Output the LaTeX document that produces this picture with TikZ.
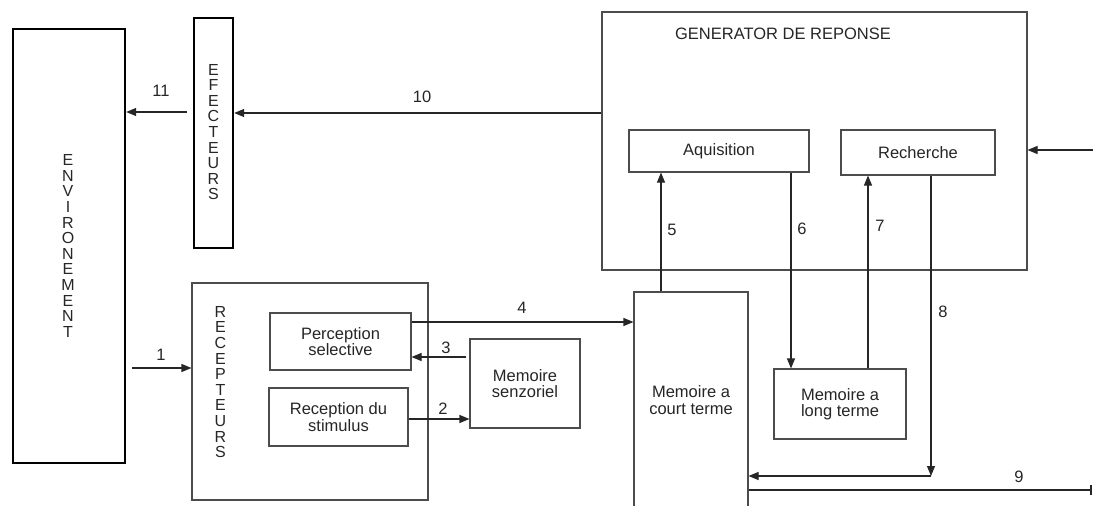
\documentclass[tikz,border=0pt]{standalone}
\usepackage{fontspec}
\setmainfont{Liberation Sans}
\usetikzlibrary{arrows.meta}
\tikzset{
  txt/.style={font=\fontsize{16.5}{16.5}\selectfont, text=black!85, align=center, inner sep=0pt},
  vtxt/.style={font=\fontsize{16}{15.6}\selectfont, text=black!85, align=center, inner sep=0pt},
  thickbox/.style={draw=black, line width=2.4pt, inner sep=0pt},
  thinbox/.style={draw=black!70, line width=1.1pt, inner sep=0pt},
  arr/.style={draw=black!85, line width=1.1pt, -{Triangle[length=10pt,width=8pt]}},
  plainline/.style={draw=black!85, line width=1.1pt},
  lbl/.style={font=\fontsize{16.5}{16.5}\selectfont, text=black!85, inner sep=0pt}
}
\begin{document}
\begin{tikzpicture}[x=1pt,y=-1pt]
\useasboundingbox (0,0) rectangle (1093,506);
\clip (0,0) rectangle (1093,506);
\fill[white] (0,0) rectangle (1093,506);

% level coordinates
\coordinate (y112) at (0,112);
\coordinate (y113) at (0,113);
\coordinate (y150) at (0,150);
\coordinate (y322) at (0,322);
\coordinate (y357) at (0,357);
\coordinate (y368) at (0,368);
\coordinate (y419) at (0,419);
\coordinate (y490) at (0,490);
\coordinate (x661) at (661,0);
\coordinate (x791) at (791,0);
\coordinate (x868) at (868,0);
\coordinate (x931) at (931,0);

% boxes
\node[thickbox, minimum width=112pt, minimum height=434pt] (env) at (69,246) {};
\node[vtxt] (envt) at (68,246) {E\\N\\V\\I\\R\\O\\N\\E\\M\\E\\N\\T};

\node[thickbox, minimum width=39pt, minimum height=230pt] (efe) at (213.5,133) {};
\node[vtxt] (efet) at (213.5,132) {E\\F\\E\\C\\T\\E\\U\\R\\S};

\node[thinbox, minimum width=236pt, minimum height=217pt] (rec) at (310,391.5) {};
\node[vtxt] (rect) at (220.5,382) {R\\E\\C\\E\\P\\T\\E\\U\\R\\S};

\node[thinbox, minimum width=141pt, minimum height=57pt, txt] (perc) at (340.5,341.5) {Perception\\selective};
\node[thinbox, minimum width=139pt, minimum height=58pt, txt] (recst) at (338.5,417) {Reception du\\stimulus};
\node[thinbox, minimum width=110pt, minimum height=89pt, txt] (msenz) at (525,383.5) {Memoire\\senzoriel};

\node[thinbox, minimum width=114pt, minimum height=216pt, txt] (mct) at (691,400) {Memoire a\\court terme};

\node[thinbox, minimum width=425pt, minimum height=258pt] (gen) at (814.5,141) {};
\node[txt] (gent) at (783,34) {GENERATOR DE REPONSE};
\node[thinbox, minimum width=180pt, minimum height=42pt, txt] (aq) at (719,151) {Aquisition};
\node[thinbox, minimum width=154pt, minimum height=45pt, txt] (rch) at (918,152.5) {Recherche};

\node[thinbox, minimum width=132pt, minimum height=70pt, txt] (mlt) at (840,404) {Memoire a\\long terme};

% free ends
\coordinate (s11) at (187,112);
\coordinate (s1) at (132,368);
\coordinate (c8) at (931,476);
\coordinate (e9) at (1092,490);
\coordinate (sin) at (1093,150);

% connectors
\draw[arr] (s11) -- (env.east |- y112);
\node[lbl] at (161,91) {11};
\draw[arr] (gen.west |- y113) -- (efe.east |- y113);
\node[lbl] at (422,97) {10};
\draw[arr] (s1) -- (rec.west |- y368);
\node[lbl] at (161,355) {1};
\draw[arr] (recst.east |- y419) -- (msenz.west |- y419);
\node[lbl] at (443,409) {2};
\draw[arr] ([xshift=-3pt]msenz.west |- y357) -- (perc.east |- y357);
\node[lbl] at (446,348) {3};
\draw[arr] (perc.east |- y322) -- (mct.west |- y322);
\node[lbl] at (522,308) {4};
\draw[arr] (x661 |- mct.north) -- (x661 |- aq.south);
\node[lbl] at (672,230) {5};
\draw[arr] (x791 |- aq.south) -- (x791 |- mlt.north);
\node[lbl] at (802,229) {6};
\draw[arr] (x868 |- mlt.north) -- (x868 |- rch.south);
\node[lbl] at (880,226) {7};
\draw[arr] (x931 |- rch.south) -- (c8);
\draw[arr] (c8) -- (mct.east |- c8);
\node[lbl] at (943,312) {8};
\draw[plainline, -{Bar[width=10pt,line width=2.4pt]}] (mct.east |- y490) -- (e9);
\node[lbl] at (1019,477) {9};
\draw[arr] (sin) -- (gen.east |- y150);
\end{tikzpicture}
\end{document}
